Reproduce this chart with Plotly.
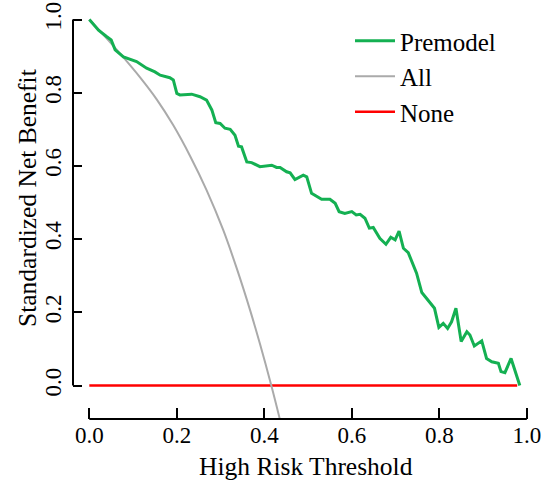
import plotly.graph_objects as go

# ---- data ----
premodel_x = [0.000, 0.021, 0.040, 0.050, 0.059, 0.078, 0.108, 0.131, 0.150, 0.162,
              0.184, 0.192, 0.200, 0.207, 0.234, 0.253, 0.268, 0.280, 0.289, 0.299,
              0.310, 0.322, 0.333, 0.341, 0.348, 0.360, 0.371, 0.390, 0.417, 0.428,
              0.436, 0.451, 0.459, 0.470, 0.489, 0.497, 0.508, 0.531, 0.550, 0.562,
              0.571, 0.584, 0.600, 0.610, 0.619, 0.630, 0.640, 0.649, 0.664, 0.678,
              0.689, 0.699, 0.708, 0.718, 0.729, 0.748, 0.760, 0.789, 0.799, 0.809,
              0.819, 0.828, 0.838, 0.850, 0.863, 0.870, 0.880, 0.897, 0.908, 0.920,
              0.935, 0.941, 0.950, 0.964, 0.984]
premodel_y = [1.000, 0.971, 0.953, 0.944, 0.917, 0.898, 0.885, 0.867, 0.857, 0.848,
              0.841, 0.835, 0.798, 0.794, 0.796, 0.789, 0.780, 0.753, 0.718, 0.716,
              0.703, 0.700, 0.684, 0.654, 0.652, 0.611, 0.609, 0.598, 0.602, 0.596,
              0.596, 0.584, 0.581, 0.563, 0.575, 0.570, 0.525, 0.509, 0.509, 0.498,
              0.475, 0.470, 0.475, 0.466, 0.468, 0.457, 0.430, 0.432, 0.402, 0.386,
              0.405, 0.398, 0.422, 0.375, 0.363, 0.307, 0.254, 0.211, 0.159, 0.170,
              0.156, 0.174, 0.211, 0.120, 0.147, 0.138, 0.108, 0.122, 0.074, 0.065,
              0.061, 0.038, 0.035, 0.074, 0.000]

all_x = [0.000, 0.037, 0.074, 0.116, 0.154, 0.192, 0.230, 0.268, 0.306, 0.337,
         0.368, 0.390, 0.416, 0.434, 0.445]
all_y = [1.000, 0.952, 0.902, 0.842, 0.782, 0.711, 0.628, 0.534, 0.425, 0.320,
         0.204, 0.114, 0.000, -0.085, -0.140]

none_x = [0.000, 0.978]
none_y = [0.000, 0.000]

x_ticks = [0.0, 0.2, 0.4, 0.6, 0.8, 1.0]
x_tick_labels = ["0.0", "0.2", "0.4", "0.6", "0.8", "1.0"]
y_ticks = [0.0, 0.2, 0.4, 0.6, 0.8, 1.0]
y_tick_labels = ["0.0", "0.2", "0.4", "0.6", "0.8", "1.0"]

FONT = "Liberation Serif"
W, H = 547, 486
L, R, T, B = 73, 3, 5, 67
PW, PH = W - L - R, H - T - B

fig = go.Figure()
fig.add_trace(go.Scatter(x=none_x, y=none_y, mode="lines", name="None",
                         line=dict(color="#FF0000", width=2.5), legendrank=3))
fig.add_trace(go.Scatter(x=all_x, y=all_y, mode="lines", name="All",
                         line=dict(color="#AAAAAA", width=2, shape="spline"), legendrank=2))
fig.add_trace(go.Scatter(x=premodel_x, y=premodel_y, mode="lines", name="Premodel",
                         line=dict(color="#14B052", width=3), legendrank=1))

# axis lines spanning 0..1 only (R base style)
fig.add_shape(type="line", xref="x", yref="paper", x0=0, x1=1, y0=0, y1=0,
              line=dict(color="black", width=2))
fig.add_shape(type="line", xref="paper", yref="y", x0=0, x1=0, y0=0, y1=1,
              line=dict(color="black", width=2))

fig.add_annotation(text="High Risk Threshold", xref="x", yref="paper", x=0.496,
                   y=(419 - 466) / PH, yanchor="middle", showarrow=False,
                   font=dict(family=FONT, size=25.5, color="black"))
fig.add_annotation(text="Standardized Net Benefit", xref="paper", yref="paper",
                   x=(28 - L) / PW, y=(419 - 198) / PH,
                   textangle=-90, xanchor="center", yanchor="middle", showarrow=False,
                   font=dict(family=FONT, size=25.5, color="black"))

fig.update_layout(
    width=W, height=H,
    margin=dict(l=L, r=R, t=T, b=B, pad=0),
    paper_bgcolor="white", plot_bgcolor="white",
    font=dict(family=FONT, size=22, color="black"),
    showlegend=True,
    legend=dict(x=(350 - L) / PW, y=1 - (18 - T) / PH,
                xanchor="left", yanchor="top", bgcolor="rgba(0,0,0,0)",
                font=dict(family=FONT, size=25, color="black"),
                itemwidth=40, tracegroupgap=8),
    xaxis=dict(range=[-0.0373, 1.0393], showgrid=False, zeroline=False, showline=False,
               tickmode="array", tickvals=x_ticks, ticktext=x_tick_labels,
               ticks="inside", ticklen=11, tickwidth=2, tickcolor="black",
               tickfont=dict(family=FONT, size=23, color="black")),
    yaxis=dict(range=[-0.0915, 1.0397], showgrid=False, zeroline=False, showline=False,
               tickmode="array", tickvals=y_ticks, ticktext=y_tick_labels,
               ticks="inside", ticklen=9, tickwidth=2, tickcolor="black", tickangle=-90,
               ticklabelstandoff=6,
               tickfont=dict(family=FONT, size=23, color="black")),
)

fig.write_html("out.html")
